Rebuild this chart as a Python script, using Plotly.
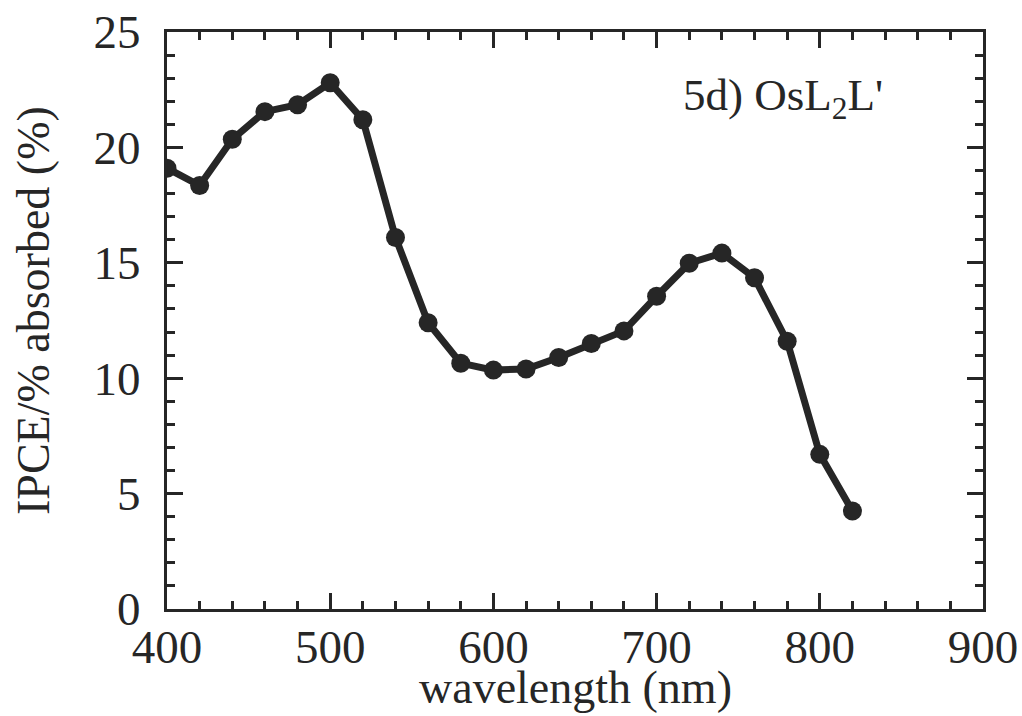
import plotly.graph_objects as go

# IPCE spectrum for OsL2L'
wavelength_nm = [400, 420, 440, 460, 480, 500, 520, 540, 560, 580, 600, 620,
                 640, 660, 680, 700, 720, 740, 760, 780, 800, 820]
ipce_pct = [19.1, 18.35, 20.35, 21.55, 21.85, 22.8, 21.2, 16.1, 12.4, 10.65,
            10.35, 10.4, 10.9, 11.5, 12.05, 13.55, 14.98, 15.42, 14.35, 11.6,
            6.7, 4.25]

x_ticks = [400, 500, 600, 700, 800, 900]
y_ticks = [0, 5, 10, 15, 20, 25]

ink = "#262626"
font_family = "Liberation Serif, Times New Roman, serif"

W, H = 1022, 716
L, R, T, B = 167, 39, 32, 107
pw, ph = W - L - R, H - T - B

fig = go.Figure()
fig.add_trace(go.Scatter(
    x=wavelength_nm, y=ipce_pct, mode="lines+markers",
    line=dict(color=ink, width=7),
    marker=dict(color=ink, size=19),
    showlegend=False,
))

axis_common = dict(
    showgrid=False, zeroline=False, showline=True, linecolor=ink, linewidth=3,
    mirror="allticks", ticks="inside", ticklen=16, tickwidth=3, tickcolor=ink,
    tickfont=dict(family=font_family, size=47, color=ink), automargin=False,
)

fig.update_xaxes(
    range=[400, 900], tickvals=x_ticks, **axis_common,
    ticklabelstandoff=-5,
    minor=dict(dtick=20, ticks="inside", ticklen=8, tickwidth=3, tickcolor=ink),
)
fig.update_yaxes(
    range=[0, 25], tickvals=y_ticks, **axis_common,
    ticklabelstandoff=14,
    minor=dict(dtick=1, ticks="inside", ticklen=8, tickwidth=3, tickcolor=ink),
)

title_font = dict(family=font_family, size=46, color=ink)
# axis titles, placed in paper coordinates from pixel positions
fig.add_annotation(
    x=0.5, y=(H - B - 687) / ph, xref="paper", yref="paper",
    text="wavelength (nm)", showarrow=False, font=title_font,
    xanchor="center", yanchor="middle",
)
fig.add_annotation(
    x=(33 - L) / pw, y=(H - B - 311) / ph, xref="paper", yref="paper",
    text="IPCE/% absorbed (%)", textangle=-90, showarrow=False, font=title_font,
    xanchor="center", yanchor="middle",
)

fig.add_annotation(
    x=0.630, y=0.885, xref="paper", yref="paper", xanchor="left", yanchor="middle",
    text="5d) OsL<sub>2</sub>L'", showarrow=False,
    font=dict(family=font_family, size=45, color=ink),
)

fig.update_layout(
    width=W, height=H,
    margin=dict(l=L, r=R, t=T, b=B),
    paper_bgcolor="white", plot_bgcolor="white",
)

fig.write_html("out.html")
